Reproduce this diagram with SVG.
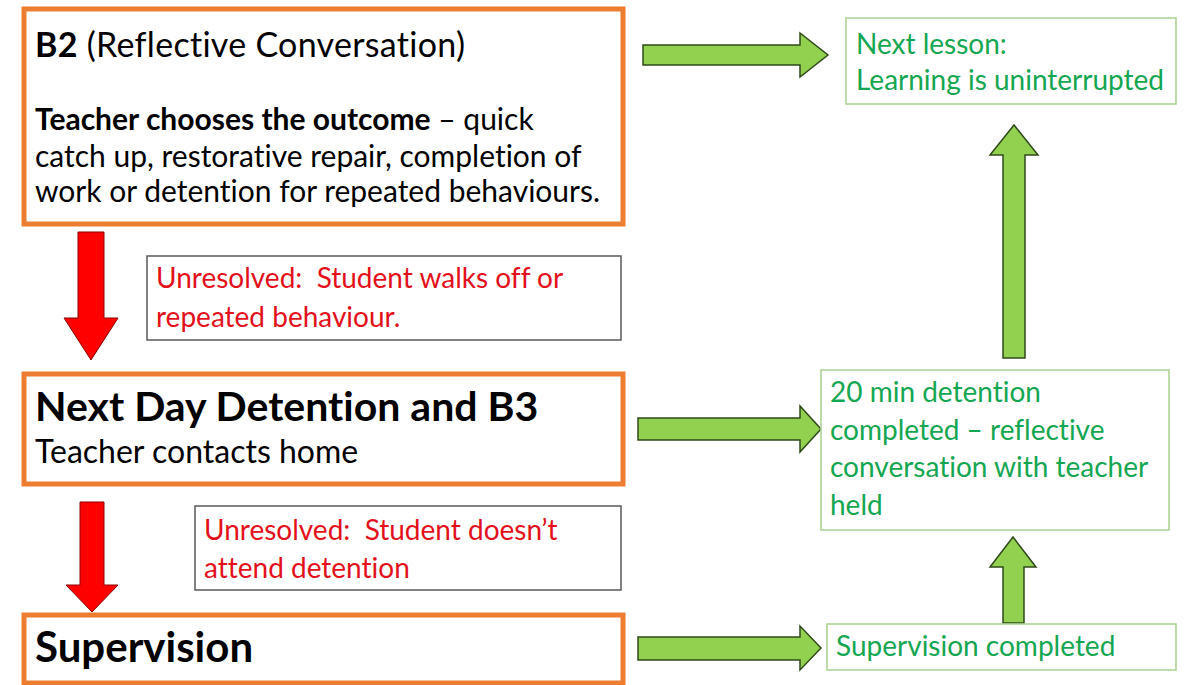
<svg xmlns="http://www.w3.org/2000/svg" width="1185" height="685" viewBox="0 0 1185 685">
<style>
.ob{fill:#fff;stroke:#ED7D31;stroke-width:5}
.gb{fill:#fff;stroke:#A9D18E;stroke-width:1.5}
.kb{fill:#fff;stroke:#595959;stroke-width:1.5}
text{font-variant-ligatures:none;font-feature-settings:"liga" 0,"dlig" 0}
.t{font-family:Lato,"Open Sans",sans-serif;fill:#000}
.r{font-family:Lato,"Open Sans",sans-serif;fill:#E3101B;font-size:28px}
.g{font-family:Lato,"Open Sans",sans-serif;fill:#14A651;font-size:28px}
.ga{fill:#92D050;stroke:#2F4A1A;stroke-width:1.5;stroke-linejoin:miter}
.ra{fill:#FF0000;stroke:#8B0000;stroke-width:1}
</style>
<rect width="1185" height="685" fill="#fff"/>
<g id="connectors">
<polygon class="ra" points="78,232 104,232 104,318 118,318 91,360 64,318 78,318"/>
<polygon class="ra" points="80,502 104,502 104,585 118,585 92,612 66,585 80,585"/>
<polygon class="ga" points="643,45 800,45 800,33 828,55 800,77 800,65 643,65"/>
<polygon class="ga" points="638,418 800,418 800,406 821,429 800,452 800,440 638,440"/>
<polygon class="ga" points="638,637 800,637 800,626 821,648 800,670 800,660 638,660"/>
<polygon class="ga" points="1003,358 1003,155 990,155 1014,125 1038,155 1025,155 1025,358"/>
<polygon class="ga" points="1003,623 1003,567 990,567 1013,537 1036,567 1024,567 1024,623"/>
</g>
<g id="b2">
<rect class="ob" x="24" y="9" width="599" height="215"/>
<text class="t" x="35" y="57" font-size="34" textLength="430"><tspan font-weight="bold">B2</tspan> (Reflective Conversation)</text>
<text class="t" x="35" y="130" font-size="30"><tspan font-weight="bold">Teacher chooses the outcome</tspan> – quick</text>
<text class="t" x="35" y="167" font-size="30">catch up, restorative repair, completion of</text>
<text class="t" x="35" y="202" font-size="30">work or detention for repeated behaviours.</text>
</g>
<g id="unresolved1">
<rect class="kb" x="147" y="256" width="474" height="84"/>
<text class="r" x="156" y="288" xml:space="preserve">Unresolved:  Student walks off or</text>
<text class="r" x="156" y="327">repeated behaviour.</text>
</g>
<g id="detention">
<rect class="ob" x="24" y="374" width="599" height="110"/>
<text class="t" x="35" y="421" font-size="41" font-weight="bold">Next Day Detention and B3</text>
<text class="t" x="35" y="463" font-size="32">Teacher contacts home</text>
</g>
<g id="unresolved2">
<rect class="kb" x="195" y="506" width="426" height="84"/>
<text class="r" x="204" y="540" xml:space="preserve">Unresolved:  Student doesn’t</text>
<text class="r" x="204" y="578">attend detention</text>
</g>
<g id="supervision">
<rect class="ob" x="24" y="615" width="599" height="68"/>
<text class="t" x="35" y="662" font-size="42" font-weight="bold">Supervision</text>
</g>
<g id="next-lesson">
<rect class="gb" x="846" y="18" width="330" height="86"/>
<text class="g" x="856" y="54">Next lesson:</text>
<text class="g" x="856" y="90">Learning is uninterrupted</text>
</g>
<g id="detention-completed">
<rect class="gb" x="821" y="370" width="348" height="160"/>
<text class="g" x="830" y="402">20 min detention</text>
<text class="g" x="830" y="440">completed – reflective</text>
<text class="g" x="830" y="477">conversation with teacher</text>
<text class="g" x="830" y="515">held</text>
</g>
<g id="supervision-completed">
<rect class="gb" x="827" y="624" width="349" height="46"/>
<text class="g" x="836" y="656">Supervision completed</text>
</g>
</svg>
